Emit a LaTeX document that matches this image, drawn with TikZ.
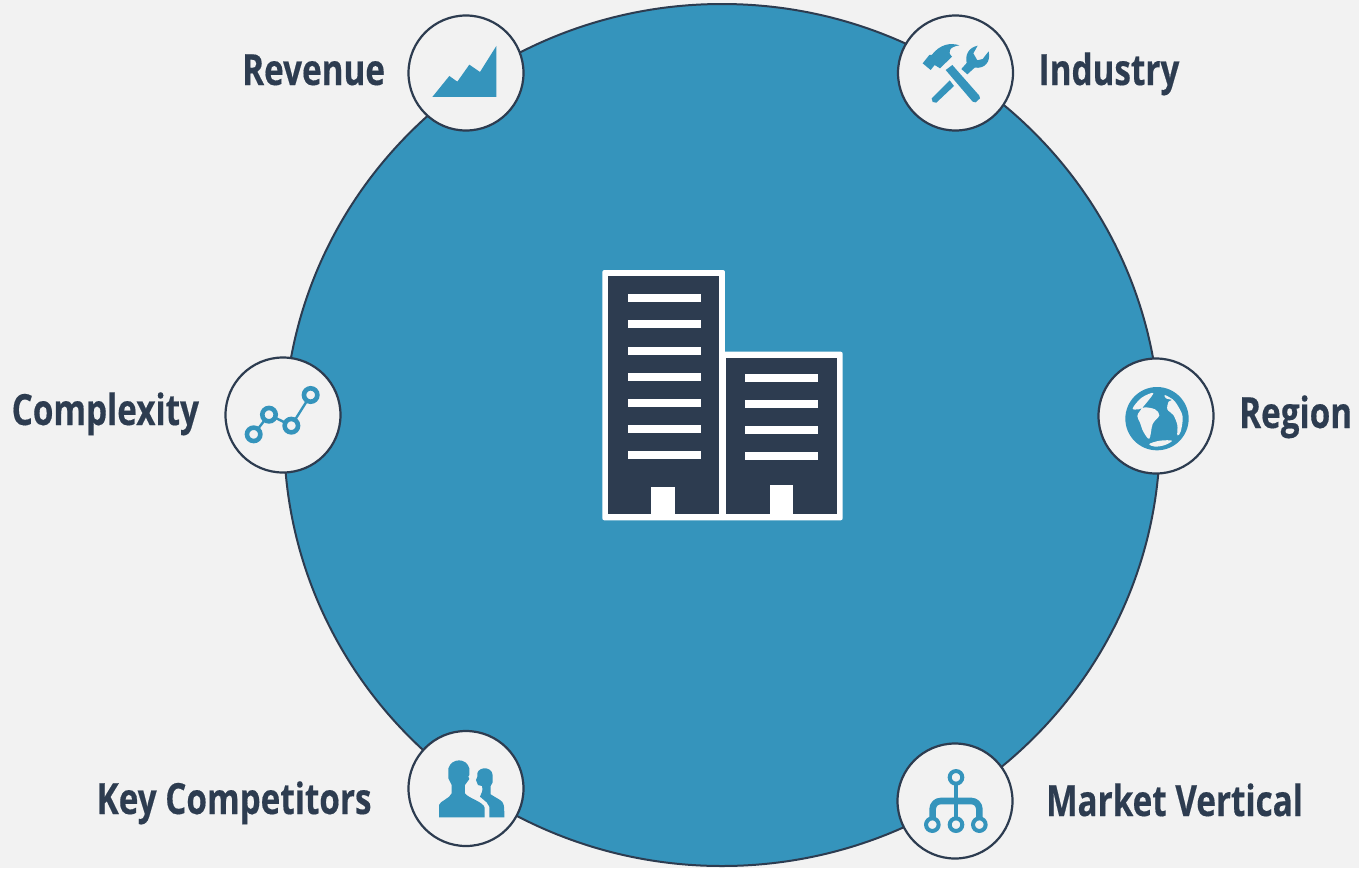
\documentclass[tikz,border=0pt]{standalone}
\usepackage{fontspec}
\setmainfont[FakeStretch=0.773,FakeBold=0.35]{Open Sans}
\usetikzlibrary{shapes.geometric}
\definecolor{bluemain}{HTML}{3594BC}
\definecolor{darkink}{HTML}{2D3C50}
\definecolor{paper}{HTML}{F2F2F2}
\tikzset{
 big/.style={ellipse,draw=darkink,line width=2pt,fill=bluemain,inner sep=0pt,minimum width=876pt,minimum height=862pt},
 badge/.style={circle,draw=darkink,line width=2.2pt,fill=paper,inner sep=0pt,minimum size=115pt},
 lbl/.style={text=darkink,anchor=base west,inner sep=0pt,font=\fontsize{43}{50}\selectfont\bfseries},
 zoomed/.style={x=0.3333pt,y=-0.3333pt},
 ringm/.style={circle,draw=bluemain,line width=4pt,fill=paper,inner sep=0pt,minimum size=12.6pt},
 ringc/.style={circle,draw=bluemain,line width=4.6pt,fill=paper,inner sep=0pt,minimum size=13.4pt},
 wire/.style={draw=bluemain,line width=2.4pt},
 armwire/.style={draw=bluemain,line width=6.6pt,line join=round},
 stemwire/.style={draw=bluemain,line width=4.6pt},
}
\begin{document}
\begin{tikzpicture}[x=1pt,y=-1pt]
\useasboundingbox (0,0) rectangle (1359,868);
\fill[paper] (0,0) rectangle (1359,868);
\node[big] (hub) at (722,435) {};
\node[badge] (revb) at (466,73) {};
\node[badge] (indb) at (955.5,73) {};
\node[badge] (regb) at (1156,416) {};
\node[badge] (mktb) at (955,801) {};
\node[badge] (keyb) at (466,788.5) {};
\node[badge] (cpxb) at (283,415) {};
\node[lbl] (revl) at (242,85) {Revenue};
\node[lbl] (indl) at (1038.5,85) {Industry};
\node[lbl] (regl) at (1239,428) {Region};
\node[lbl] (cpxl) at (11.5,425) {Complexity};
\node[lbl] (keyl) at (96.5,814) {Key Competitors};
\node[lbl] (mktl) at (1046,816) {Market Vertical};
% Revenue icon
\begin{scope}[shift={(400,0)},zoomed]
\fill[bluemain] (97,291)--(148,228)--(172,245)--(208,194)--(240,216)--(289,138)--(289,291)--cycle;
\end{scope}
% Industry icon
\begin{scope}[shift={(890,5)},zoomed]
\fill[bluemain] (167,195)--(187,180)--(268,272)--(270,280)--(257,292)--(248,290)--cycle;
\fill[bluemain] (98,175)--(122,195)--(134,180)--(150,190)--(186,155) .. controls (170,140) and (180,125) .. (208,121) .. controls (180,112) and (150,118) .. (125,150)--(118,150)--cycle;
\fill[bluemain] (125,280)--(179,226)--(192,243)--(139,293)--(128,291)--cycle;
\fill[bluemain] (214,192) -- (230,174) .. controls (225,150) and (235,128) .. (263,122) -- (250,145) -- (262,166) -- (278,162) -- (296,139) .. controls (303,170) and (285,192) .. (254,188) -- (232,208) --cycle;
\end{scope}
% Region icon
\begin{scope}[shift={(1090,350)},zoomed]
\fill[bluemain] (201,206) circle[radius=95];
\fill[paper] plot[smooth cycle,tension=0.55] coordinates {(190,130)(155,143)(128,175)(146,178)(165,172)(195,178)(208,196)(188,222)(178,266)(160,245)(150,218)(142,198)(152,180)};
\fill[paper] plot[smooth cycle,tension=0.55] coordinates {(224,135)(248,148)(262,165)(278,200)(272,245)(262,256)(262,225)(250,195)(232,178)(236,155)(246,150)(228,145)};
\fill[paper] plot[smooth cycle,tension=0.55] coordinates {(178,282)(210,272)(246,272)(225,285)(195,290)};
\end{scope}
% Market icon
\begin{scope}[shift={(890,735)},zoomed]
\draw[armwire,rounded corners=8pt] (128,255)--(128,198)--(268,198)--(268,255);
\draw[stemwire] (198,145)--(198,255);
\node[ringm] (m0) at (198,127) {};
\node[ringm] (m1) at (127,269) {};
\node[ringm] (m2) at (198,269) {};
\node[ringm] (m3) at (268,269) {};
\end{scope}
% Key Competitors icon
\begin{scope}[shift={(400,725)},zoomed]
\fill[bluemain] (240,215) .. controls (245,205) and (250,195) .. (246,183) -- (234,180) -- (228,165) -- (232,155) .. controls (225,125) and (275,120) .. (278,150) -- (278,172) -- (272,183) -- (272,208) -- (300,225) .. controls (312,232) and (313,240) .. (313,277) -- (268,277) -- (268,245) -- (260,232) --cycle;
\fill[bluemain] (117,277) -- (117,240) .. controls (120,228) and (150,220) .. (155,205) -- (155,180) -- (145,160) -- (145,130) .. controls (155,98) and (200,98) .. (208,130) -- (208,150) -- (205,155) -- (208,162) -- (195,180) -- (195,205) .. controls (205,220) and (250,230) .. (254,248) -- (254,277) --cycle;
\end{scope}
% Complexity icon
\begin{scope}[shift={(218,350)},zoomed]
\draw[wire] (107,253)--(153,194)--(220,227)--(278,135);
\node[ringc] (c1) at (107,253) {};
\node[ringc] (c2) at (153,194) {};
\node[ringc] (c3) at (220,227) {};
\node[ringc] (c4) at (278,135) {};
\end{scope}
% Building
\begin{scope}[shift={(590,260)},zoomed]
\fill[white,rounded corners=2pt] (37,30) rectangle (405,781);
\fill[white,rounded corners=2pt] (395,275) rectangle (758,781);
\fill[darkink] (55,48) rectangle (388,763);
\fill[darkink] (408,293) rectangle (741,763);
\fill[white] (183,680) rectangle (254,770);
\fill[white] (539,676) rectangle (610,770);
\foreach \yy in {102,180,261,339,417,495,573} \fill[white] (114,\yy) rectangle (333,\yy+24);
\foreach \yy in {342,420,498,576} \fill[white] (465,\yy) rectangle (684,\yy+24);
\end{scope}
\end{tikzpicture}
\end{document}
